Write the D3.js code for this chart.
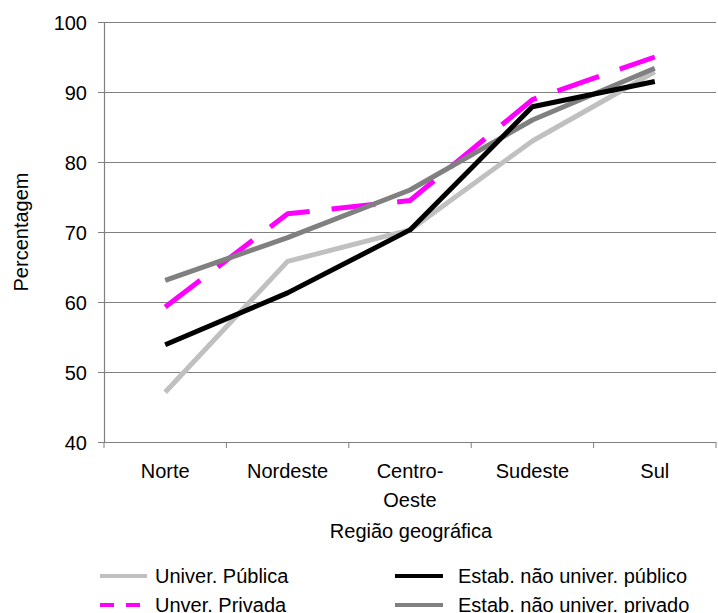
<!DOCTYPE html>
<html>
  <head>
    <meta charset="utf-8">
    <title>Percentagem por região geográfica</title>
    <script src="https://d3js.org/d3.v7.min.js"></script>
    <style>
      body { margin: 0; background: #fff; }
      text { font-family: "Liberation Sans", Arial, sans-serif; fill: #000; }
    </style>
  </head>
  <body>
    <div id="chart"></div>
    <script>
      // data
      var regioes = ["Norte", "Nordeste", "Centro-Oeste", "Sudeste", "Sul"];
      var univPublica = [47.1, 65.8, 70.3, 83.0, 92.9];
      var univPrivada = [59.3, 72.6, 74.5, 88.9, 95.0];
      var estabPublico = [53.9, 61.3, 70.3, 87.9, 91.5];
      var estabPrivado = [63.1, 69.2, 76.0, 86.0, 93.4];
      var yTicks = [40, 50, 60, 70, 80, 90, 100];

      var series = [
        { name: "Univer. Pública", values: univPublica, color: "#c0c0c0", dash: null, legendDash: null },
        { name: "Unver. Privada", values: univPrivada, color: "#ff00ff", dash: "44,22", legendDash: "14,12" },
        { name: "Estab. não univer. público", values: estabPublico, color: "#000000", dash: null, legendDash: null },
        { name: "Estab. não univer. privado", values: estabPrivado, color: "#808080", dash: null, legendDash: null }
      ];
      // draw order: pink under the greys, as in the reference
      var drawOrder = [0, 1, 3, 2];
      var fontSize = "20px";

      var width = 718, height = 613;
      var margin = { top: 22, right: 2, bottom: 171, left: 104 };
      var innerW = width - margin.left - margin.right;
      var innerH = height - margin.top - margin.bottom;

      var svg = d3.select("#chart").append("svg")
        .attr("width", width)
        .attr("height", height);
      var g = svg.append("g")
        .attr("transform", "translate(" + margin.left + "," + margin.top + ")");

      var x = d3.scaleBand().domain(regioes).range([0, innerW]);
      var y = d3.scaleLinear().domain([40, 100]).range([innerH, 0]);

      // gridlines
      g.selectAll(".grid")
        .data(yTicks)
        .enter().append("line")
        .attr("x1", 0).attr("x2", innerW)
        .attr("y1", function(d) { return Math.round(y(d)) + 0.5; })
        .attr("y2", function(d) { return Math.round(y(d)) + 0.5; })
        .attr("stroke", "#808080")
        .attr("stroke-width", 1.2);

      // y axis
      var yAxis = g.append("g")
        .call(d3.axisLeft(y).tickValues(yTicks).tickSize(6).tickPadding(11));
      yAxis.select(".domain").attr("stroke", "#808080").attr("stroke-width", 1.2);
      yAxis.selectAll(".tick line").attr("stroke", "#808080");
      yAxis.selectAll("text")
        .style("font-size", fontSize)
        .style("font-family", "Liberation Sans, Arial, sans-serif")
        .attr("dy", "0.36em");

      // x axis: ticks between categories
      var xAxis = g.append("g").attr("transform", "translate(0," + innerH + ")");
      xAxis.append("line")
        .attr("x1", 0).attr("x2", innerW)
        .attr("y1", 0.5).attr("y2", 0.5)
        .attr("stroke", "#808080").attr("stroke-width", 1.2);
      var bounds = regioes.map(function(d) { return x(d); }).concat([innerW]);
      xAxis.selectAll(".xt")
        .data(bounds)
        .enter().append("line")
        .attr("x1", function(d) { return d; }).attr("x2", function(d) { return d; })
        .attr("y1", 0).attr("y2", 6)
        .attr("stroke", "#808080");
      var xLabels = xAxis.selectAll(".xl")
        .data(regioes)
        .enter().append("text")
        .attr("x", function(d) { return x(d) + x.bandwidth() / 2; })
        .attr("y", 36)
        .attr("text-anchor", "middle")
        .style("font-size", fontSize);
      xLabels.each(function(d) {
        var parts = d === "Centro-Oeste" ? ["Centro-", "Oeste"] : [d];
        var t = d3.select(this);
        parts.forEach(function(p, i) {
          t.append("tspan")
            .attr("x", x(d) + x.bandwidth() / 2)
            .attr("dy", i === 0 ? 0 : 29)
            .text(p);
        });
      });

      // axis titles
      svg.append("text")
        .attr("x", 411)
        .attr("y", 538)
        .attr("text-anchor", "middle")
        .style("font-size", fontSize)
        .text("Região geográfica");
      svg.append("text")
        .attr("transform", "translate(28,232) rotate(-90)")
        .attr("text-anchor", "middle")
        .style("font-size", fontSize)
        .text("Percentagem");

      // lines
      var line = d3.line()
        .x(function(d, i) { return x(regioes[i]) + x.bandwidth() / 2; })
        .y(function(d) { return y(d); });
      drawOrder.forEach(function(k) {
        var s = series[k];
        g.append("path")
          .datum(s.values)
          .attr("d", line)
          .attr("fill", "none")
          .attr("stroke", s.color)
          .attr("stroke-width", 5)
          .attr("stroke-linejoin", "round")
          .attr("stroke-dasharray", s.dash);
      });

      // legend
      var legendPos = [
        { x: 100, y: 576, lx: 47, tx: 55 },
        { x: 100, y: 605, lx: 47, tx: 55 },
        { x: 395, y: 576, lx: 48, tx: 63 },
        { x: 395, y: 605, lx: 48, tx: 63 }
      ];
      series.forEach(function(s, i) {
        var p = legendPos[i];
        var lg = svg.append("g").attr("transform", "translate(" + p.x + "," + p.y + ")");
        lg.append("line")
          .attr("x1", 0).attr("x2", p.lx)
          .attr("y1", 0).attr("y2", 0)
          .attr("stroke", s.color)
          .attr("stroke-width", 4)
          .attr("stroke-dasharray", s.legendDash);
        lg.append("text")
          .attr("x", p.tx)
          .attr("y", 7)
          .style("font-size", fontSize)
          .text(s.name);
      });
    </script>
  </body>
</html>
